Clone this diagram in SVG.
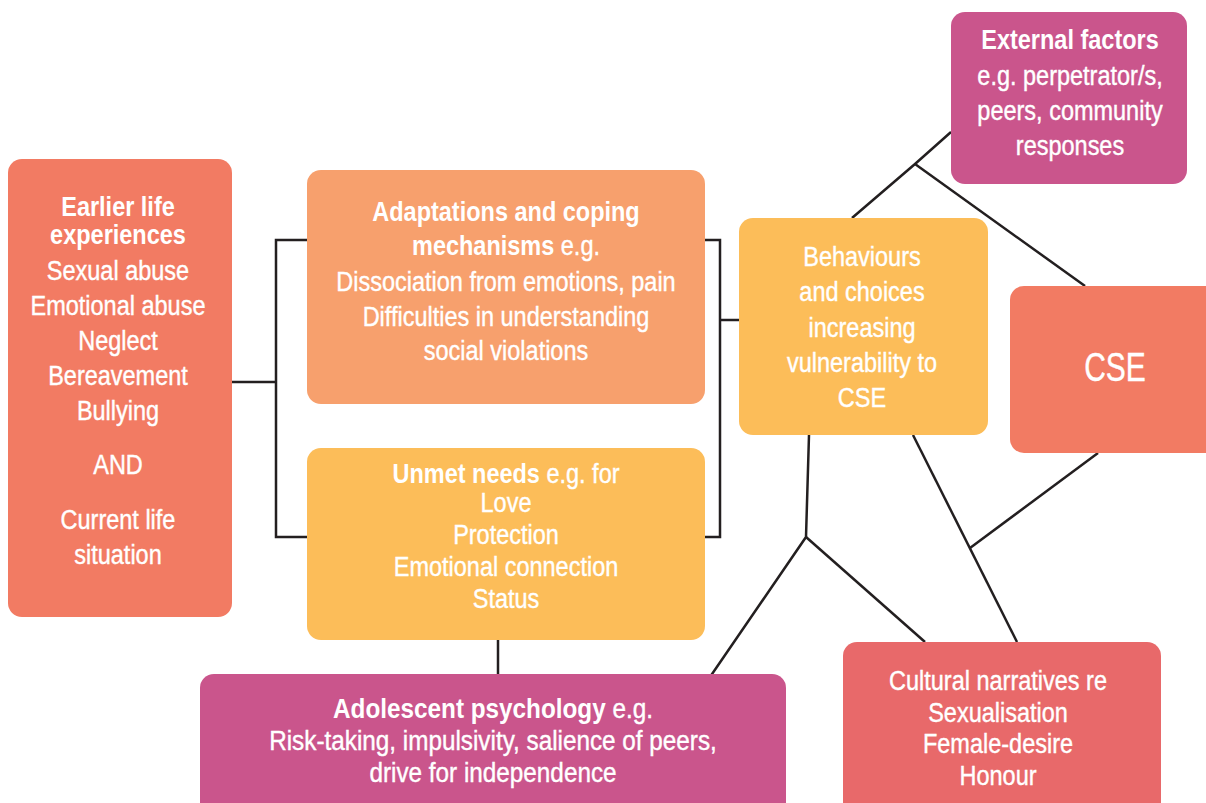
<svg xmlns="http://www.w3.org/2000/svg" width="1206" height="803" viewBox="0 0 1206 803">
<style>
.t{font-family:"Liberation Sans",Arial,sans-serif;font-size:27px;fill:#ffffff;stroke:#ffffff;stroke-width:0.4;text-anchor:middle}
.b{font-weight:bold;stroke-width:0}
.c{fill:none;stroke:#231F20;stroke-width:2.5;stroke-linejoin:miter}
</style>
<rect width="1206" height="803" fill="#ffffff"/>
<g id="connectors" class="c">
<polyline points="232,382 276,382"/>
<polyline points="307,240 276,240 276,537 307,537"/>
<polyline points="705,240 720,240 720,537 705,537"/>
<polyline points="720,320 739,320"/>
<polyline points="498,640 498,674"/>
<polyline points="951,132 915,164 852,218"/>
<polyline points="915,164 1085,286"/>
<polyline points="809,435 806,537 710,677"/>
<polyline points="806,537 925,642"/>
<polyline points="913,435 1017,642"/>
<polyline points="970,548 1098,453"/>
</g>
<g id="earlier">
<rect x="8" y="159" width="224" height="458" rx="14" fill="#F27B63"/>
<text class="t" transform="translate(118,0) scale(0.87,1)"><tspan class="b" x="0" y="216">Earlier life</tspan><tspan class="b" x="0" y="244">experiences</tspan><tspan x="0" y="280">Sexual abuse</tspan><tspan x="0" y="315">Emotional abuse</tspan><tspan x="0" y="350">Neglect</tspan><tspan x="0" y="385">Bereavement</tspan><tspan x="0" y="420">Bullying</tspan><tspan x="0" y="474">AND</tspan><tspan x="0" y="529">Current life</tspan><tspan x="0" y="564">situation</tspan></text>
</g>
<g id="adaptations">
<rect x="307" y="170" width="398" height="234" rx="14" fill="#F7A06D"/>
<text class="t" transform="translate(506,0) scale(0.87,1)"><tspan class="b" x="0" y="221">Adaptations and coping</tspan><tspan x="0" y="255"><tspan class="b">mechanisms</tspan> e.g.</tspan><tspan x="0" y="291">Dissociation from emotions, pain</tspan><tspan x="0" y="326">Difficulties in understanding</tspan><tspan x="0" y="360">social violations</tspan></text>
</g>
<g id="unmet">
<rect x="307" y="448" width="398" height="192" rx="14" fill="#FCBD59"/>
<text class="t" transform="translate(506,0) scale(0.87,1)"><tspan x="0" y="483"><tspan class="b">Unmet needs</tspan> e.g. for</tspan><tspan x="0" y="512">Love</tspan><tspan x="0" y="544">Protection</tspan><tspan x="0" y="576">Emotional connection</tspan><tspan x="0" y="608">Status</tspan></text>
</g>
<g id="behaviours">
<rect x="739" y="218" width="249" height="217" rx="14" fill="#FCBD59"/>
<text class="t" transform="translate(862,0) scale(0.87,1)"><tspan x="0" y="266">Behaviours</tspan><tspan x="0" y="301">and choices</tspan><tspan x="0" y="337">increasing</tspan><tspan x="0" y="372">vulnerability to</tspan><tspan x="0" y="407">CSE</tspan></text>
</g>
<g id="external">
<rect x="951" y="12" width="236" height="172" rx="14" fill="#CA558C"/>
<text class="t" transform="translate(1070,0) scale(0.87,1)"><tspan class="b" x="0" y="49">External factors</tspan><tspan x="0" y="85">e.g. perpetrator/s,</tspan><tspan x="0" y="120">peers, community</tspan><tspan x="0" y="155">responses</tspan></text>
</g>
<g id="cse">
<rect x="1010" y="286" width="220" height="167" rx="14" fill="#F27B63"/>
<text class="t" transform="translate(1115,0) scale(0.75,1)" x="0" y="381" style="font-size:40px">CSE</text>
</g>
<g id="cultural">
<rect x="843" y="642" width="318" height="180" rx="14" fill="#E8696A"/>
<text class="t" transform="translate(998,0) scale(0.87,1)"><tspan x="0" y="690">Cultural narratives re</tspan><tspan x="0" y="722">Sexualisation</tspan><tspan x="0" y="753">Female-desire</tspan><tspan x="0" y="785">Honour</tspan></text>
</g>
<g id="adolescent">
<rect x="200" y="674" width="586" height="150" rx="14" fill="#CA558C"/>
<text class="t" transform="translate(493,0) scale(0.9,1)"><tspan x="0" y="718"><tspan class="b">Adolescent psychology</tspan> e.g.</tspan><tspan x="0" y="750">Risk-taking, impulsivity, salience of peers,</tspan><tspan x="0" y="782">drive for independence</tspan></text>
</g>
</svg>
